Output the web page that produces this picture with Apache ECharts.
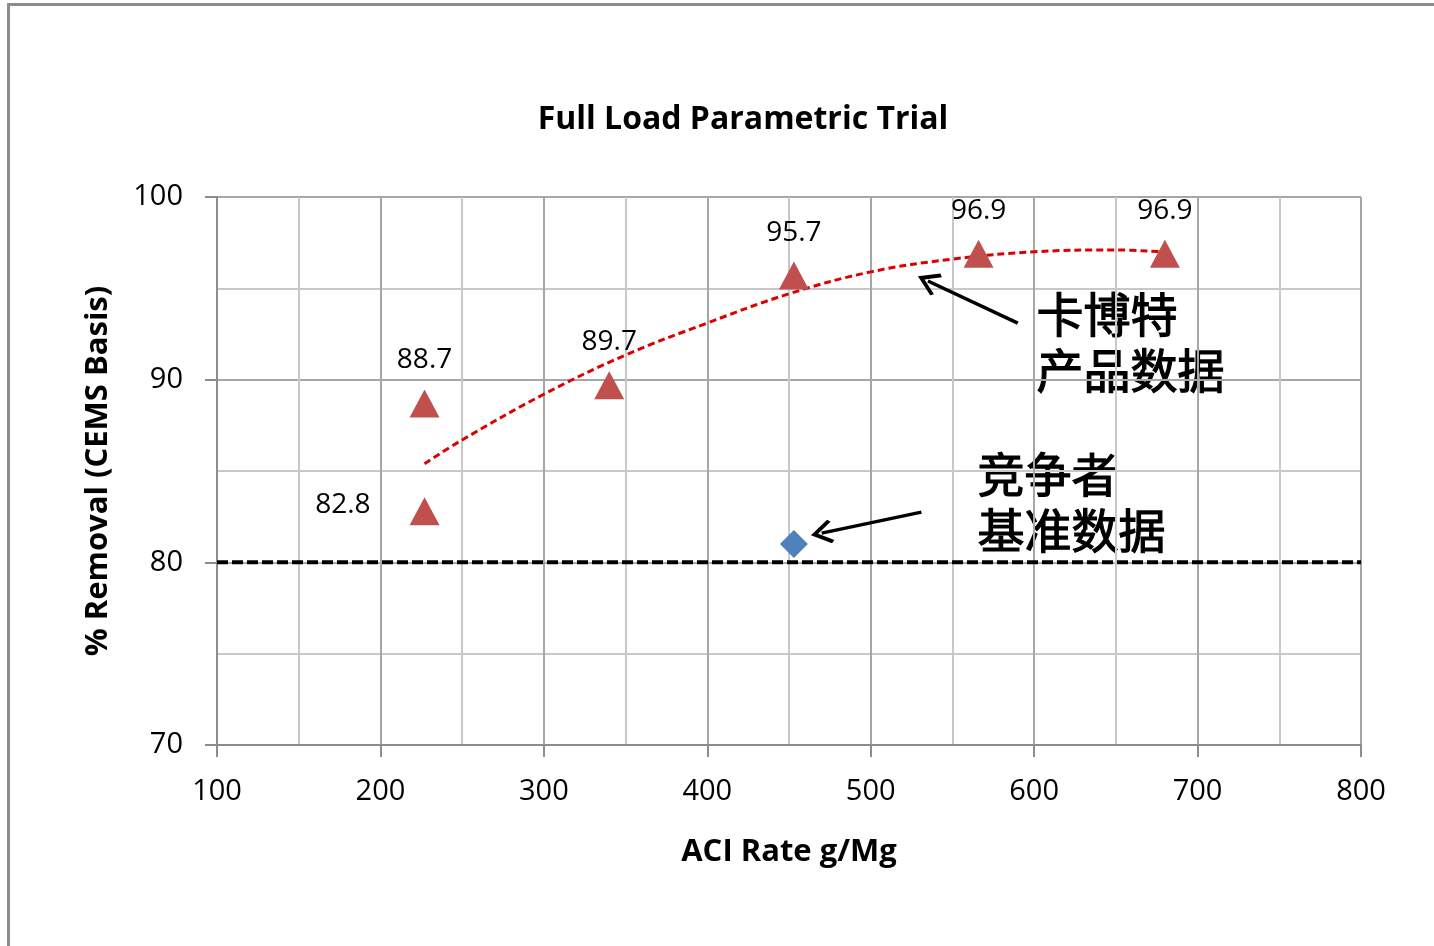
<!DOCTYPE html>
<html>
<head>
<meta charset="utf-8">
<script src="https://cdn.jsdelivr.net/npm/echarts@6/dist/echarts.min.js"></script>
<style>
  html, body { margin: 0; padding: 0; background: #fff; }
  #frame { position: absolute; left: 7px; top: 3px; width: 1440px; height: 960px; border-left: 3px solid #8c8c8c; border-top: 3px solid #8c8c8c; }
  #chart { position: absolute; left: 0; top: 0; width: 1434px; height: 946px; }
</style>
</head>
<body>
<div id="frame"></div>
<div id="chart"></div>
<script>
// measured trial points (ACI rate g/Mg, % removal)
const trialX = [227, 227, 340, 453, 566, 680]
const trialY = [88.7, 82.8, 89.7, 95.7, 96.9, 96.9]
// competitor baseline point
const competitorX = [453]
const competitorY = [81.0]
// trend line
const trendX = [227, 250, 300, 350, 400, 450, 500, 550, 600, 650, 678]
const trendY = [85.4, 86.7, 89.2, 91.35, 93.1, 94.7, 95.9, 96.6, 97.0, 97.1, 97.0]
// requirement line
const limitX = [100, 800]
const limitY = [80, 80]
const xTicks = [100, 200, 300, 400, 500, 600, 700, 800]
const yTicks = [70, 80, 90, 100]

const font = '"Open Sans", "Noto Sans", sans-serif'
const cjk = '"Noto Sans CJK SC", sans-serif'

const chart = echarts.init(document.getElementById('chart'))

// open arrow head drawn as a thin filled chevron
const openArrow = 'path://M0,0 L11,13 L8.6,15 L0,5 L-8.6,15 L-11,13 Z'

const trialData = trialX.map((x, i) => {
  const item = { value: [x, trialY[i]] }
  if (i === 1) {
    item.label = { position: 'left', distance: 39, offset: [0, -6] }
  }
  return item
})

const option = {
  animation: false,
  title: {
    text: 'Full Load Parametric Trial',
    left: 738,
    top: 99,
    textAlign: 'center',
    textStyle: { fontFamily: font, fontWeight: 'bold', fontSize: 32, color: '#000' },
  },
  grid: { left: 217, right: 73, top: 197, bottom: 201 },
  xAxis: {
    type: 'value',
    min: 100,
    max: 800,
    interval: 100,
    name: 'ACI Rate g/Mg',
    nameLocation: 'middle',
    nameGap: 92,
    nameTextStyle: { fontFamily: font, fontWeight: 'bold', fontSize: 31, color: '#000' },
    axisLine: { show: true, lineStyle: { color: '#8c8c8c', width: 2 } },
    axisTick: { show: true, length: 12, lineStyle: { color: '#8c8c8c', width: 2 } },
    axisLabel: { margin: 32, fontFamily: font, fontSize: 29, color: '#000',
      formatter: (v) => xTicks.includes(v) ? String(v) : '' },
    splitLine: { show: true, lineStyle: { color: '#a6a6a6', width: 2 } },
    minorTick: { show: false, splitNumber: 2 },
    minorSplitLine: { show: true, lineStyle: { color: '#c8c8c8', width: 2 } },
  },
  yAxis: {
    type: 'value',
    min: 70,
    max: 100,
    interval: 10,
    name: '% Removal (CEMS Basis)',
    nameLocation: 'middle',
    nameGap: 103,
    nameTextStyle: { fontFamily: font, fontWeight: 'bold', fontSize: 31, color: '#000' },
    axisLine: { show: true, lineStyle: { color: '#8c8c8c', width: 2 } },
    axisTick: { show: true, length: 12, lineStyle: { color: '#8c8c8c', width: 2 } },
    axisLabel: { margin: 34, fontFamily: font, fontSize: 29, color: '#000',
      formatter: (v) => yTicks.includes(v) ? String(v) : '' },
    splitLine: { show: true, lineStyle: { color: '#a6a6a6', width: 2 } },
    minorTick: { show: false, splitNumber: 2 },
    minorSplitLine: { show: true, lineStyle: { color: '#c8c8c8', width: 2 } },
  },
  series: [
    {
      name: 'limit',
      type: 'line',
      data: limitX.map((x, i) => [x, limitY[i]]),
      symbol: 'none',
      lineStyle: { color: '#000', width: 4, type: [11, 4] },
      z: 3,
    },
    {
      name: 'trend',
      type: 'line',
      data: trendX.map((x, i) => [x, trendY[i]]),
      smooth: 0.4,
      symbol: 'none',
      lineStyle: { color: '#dd0000', width: 3, type: [7, 4] },
      z: 4,
    },
    {
      name: 'trial',
      type: 'scatter',
      data: trialData,
      symbol: 'triangle',
      symbolSize: [30, 28],
      itemStyle: { color: '#c0504d', opacity: 1 },
      label: {
        show: true,
        fontFamily: font,
        fontSize: 28,
        color: '#000',
        formatter: (p) => p.value[1].toFixed(1),
        position: 'top',
        distance: 15,
      },
      markLine: {
        silent: true,
        symbol: ['none', openArrow],
        symbolSize: [24, 22],
        label: { show: false },
        lineStyle: { color: '#000', width: 3.5, type: 'solid' },
        data: [
          [{ coord: [590, 93.1] }, { coord: [535, 95.4] }],
          [{ coord: [531, 82.75] }, { coord: [470, 81.6] }],
        ],
      },
      z: 5,
    },
    {
      name: 'competitor',
      type: 'scatter',
      data: competitorX.map((x, i) => [x, competitorY[i]]),
      symbol: 'diamond',
      symbolSize: [28, 28],
      itemStyle: { color: '#4f81bd', opacity: 1 },
      z: 5,
    },
  ],
  graphic: [
    {
      type: 'text',
      left: 1036,
      top: 286,
      style: { text: '卡博特\n产品数据', font: '47px ' + cjk, lineHeight: 56, fill: '#000', stroke: '#000', lineWidth: 1.2 },
    },
    {
      type: 'text',
      left: 977,
      top: 446,
      style: { text: '竞争者\n基准数据', font: '47px ' + cjk, lineHeight: 56, fill: '#000', stroke: '#000', lineWidth: 1.2 },
    },
  ],
}

chart.setOption(option)
</script>
</body>
</html>
